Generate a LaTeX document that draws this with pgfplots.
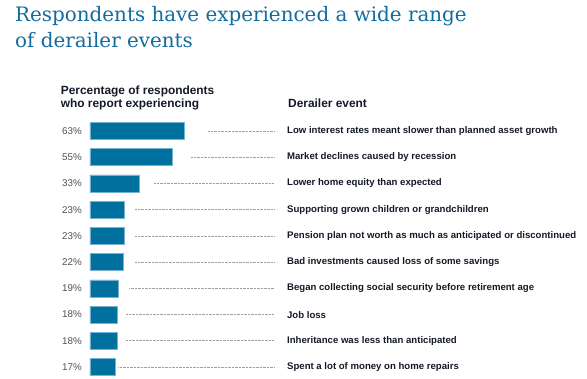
\documentclass[border=0pt]{standalone}
\usepackage{pgfplots}
\pgfplotsset{compat=1.18}
\usepackage{pgfplotstable}
\usepackage{fontspec}
\setmainfont{Liberation Sans}
\newfontfamily\titlefont{DejaVu Serif}
\definecolor{titleblue}{RGB}{18,108,158}
\definecolor{barblue}{RGB}{0,112,158}
\definecolor{baredge}{RGB}{120,180,210}
\definecolor{headcol}{RGB}{20,25,40}
\definecolor{pctgray}{RGB}{80,80,80}
\definecolor{dotgray}{RGB}{160,160,160}

\pgfplotstableread[col sep=comma]{
row,val,s,e,tx,label
0,63,78.7,44.0,131.3,Low interest rates meant slower than planned asset growth
1,55,67.3,55.4,131.3,Market declines caused by recession
2,33,42.7,80.0,131.3,Lower home equity than expected
3,23,30.0,92.7,131.3,Supporting grown children or grandchildren
4,23,30.0,92.7,131.3,Pension plan not worth as much as anticipated or discontinued
5,22,30.0,92.7,131.3,Bad investments caused loss of some savings
6,19,26.2,96.5,131.3,Began collecting social security before retirement age
7,18,24.0,98.7,131.3,Job loss
8,18,24.0,98.7,131.3,Inheritance was less than anticipated
9,17,18.9,103.8,131.3,Spent a lot of money on home repairs
}\events

\begin{document}
\begin{tikzpicture}
\path[use as bounding box] (0pt,0pt) rectangle (587pt,-378pt);
\node[anchor=base west, inner sep=0pt, align=left, text=titleblue,
      font=\titlefont\fontsize{19.9}{26}\selectfont] at (15pt,-47.7pt)
  {Respondents have experienced a wide range\\of derailer events};
\node[anchor=base west, inner sep=0pt, align=left, text=headcol,
      font=\bfseries\fontsize{11.9}{13}\selectfont] at (60.7pt,-107.3pt)
  {Percentage of respondents\\who report experiencing};
\node[anchor=base west, inner sep=0pt, text=headcol,
      font=\bfseries\fontsize{11.9}{13}\selectfont] at (288pt,-107.5pt)
  {Derailer event};
\begin{axis}[
  at={(90pt,-115.3pt)}, anchor=north west,
  scale only axis, width=490pt, height=262.2pt,
  xmin=0, xmax=326.67, ymin=-0.6, ymax=9.4, y dir=reverse,
  axis line style={draw=none}, xtick=\empty,
  ytick={0,...,9},
  yticklabels={63\%,55\%,33\%,23\%,23\%,22\%,19\%,18\%,18\%,17\%},
  major tick length=0pt,
  yticklabel style={anchor=east, inner sep=0pt, xshift=-8pt,
     text=pctgray, font=\fontsize{9.8}{11}\selectfont},
  clip=false,
]
\addplot[xbar, bar width=0.65, fill=barblue, draw=baredge, line width=0.6pt]
  table[x=val, y=row] {\events};
\addplot[draw=none, mark=none,
  error bars/.cd, x dir=plus, x explicit, error mark=none,
  error bar style={dotgray, line width=0.7pt, dash pattern=on 0.7pt off 0.7pt}]
  table[x=s, y=row, x error=e] {\events};
\addplot[draw=none, mark=none, nodes near coords, point meta=explicit symbolic,
  nodes near coords style={anchor=west, inner sep=0pt, text=headcol,
     font=\bfseries\fontsize{9.6}{11}\selectfont}]
  table[x=tx, y=row, meta=label] {\events};
\end{axis}
\end{tikzpicture}
\end{document}
